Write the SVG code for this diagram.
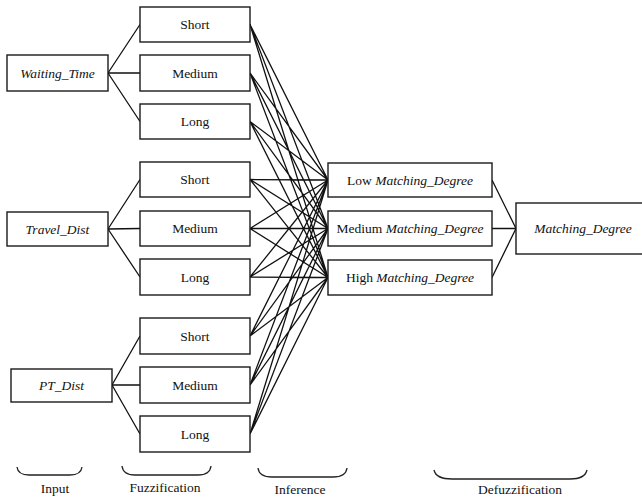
<svg xmlns="http://www.w3.org/2000/svg" width="642" height="500" viewBox="0 0 642 500">
<style>
.box{fill:#fff;stroke:#1a1a1a;stroke-width:1.4}
.ln{stroke:#111;stroke-width:1.3;fill:none}
.br{stroke:#222;stroke-width:1.3;fill:none}
.t{font-family:'Liberation Serif','Times New Roman',Times,'DejaVu Serif',serif;font-size:13.5px;fill:#111;text-anchor:middle}
.it{font-style:italic}
</style>
<rect width="642" height="500" fill="#fff"/>
<g id="connectors">
<path class="ln" d="M108,73 L140,24.5 M108,73 L140,73 M108,73 L140,121.5"/>
<path class="ln" d="M108,229 L140,179.5 M108,229 L140,228.5 M108,229 L140,277"/>
<path class="ln" d="M112,385 L140,336 M112,385 L140,385 M112,385 L140,434"/>
<path class="ln" d="M250,24.5 L328,180 M250,24.5 L328,228.5 M250,24.5 L328,277.5
M250,73 L328,180 M250,73 L328,228.5 M250,73 L328,277.5
M250,121.5 L328,180 M250,121.5 L328,228.5 M250,121.5 L328,277.5
M250,179.5 L328,180 M250,179.5 L328,228.5 M250,179.5 L328,277.5
M250,228.5 L328,180 M250,228.5 L328,228.5 M250,228.5 L328,277.5
M250,277 L328,180 M250,277 L328,228.5 M250,277 L328,277.5
M250,336 L328,180 M250,336 L328,228.5 M250,336 L328,277.5
M250,385 L328,180 M250,385 L328,228.5 M250,385 L328,277.5
M250,434 L328,180 M250,434 L328,228.5 M250,434 L328,277.5"/>
<path class="ln" d="M492,180 L516,228.5 M492,228.5 L516,228.5 M492,277.5 L516,228.5"/>
</g>
<g class="t" font-family="Liberation Serif, Times New Roman, serif">
<g id="in-waiting"><rect class="box" x="7" y="55" width="101" height="36"/><text class="it" x="57.5" y="77.5">Waiting_Time</text></g>
<g id="in-travel"><rect class="box" x="7" y="212" width="101" height="34"/><text class="it" x="57.5" y="233.5">Travel_Dist</text></g>
<g id="in-pt"><rect class="box" x="11" y="369" width="101" height="33"/><text class="it" x="61.5" y="390">PT_Dist</text></g>
<g id="wt-short"><rect class="box" x="140" y="7" width="110" height="35"/><text x="195" y="29">Short</text></g>
<g id="wt-medium"><rect class="box" x="140" y="55" width="110" height="36"/><text x="195" y="77.5">Medium</text></g>
<g id="wt-long"><rect class="box" x="140" y="104" width="110" height="35"/><text x="195" y="126">Long</text></g>
<g id="td-short"><rect class="box" x="140" y="162" width="110" height="35"/><text x="195" y="184">Short</text></g>
<g id="td-medium"><rect class="box" x="140" y="211" width="110" height="35"/><text x="195" y="233">Medium</text></g>
<g id="td-long"><rect class="box" x="140" y="259" width="110" height="36"/><text x="195" y="281.5">Long</text></g>
<g id="pt-short"><rect class="box" x="140" y="318" width="110" height="36"/><text x="195" y="340.5">Short</text></g>
<g id="pt-medium"><rect class="box" x="140" y="367" width="110" height="36"/><text x="195" y="389.5">Medium</text></g>
<g id="pt-long"><rect class="box" x="140" y="416" width="110" height="36"/><text x="195" y="438.5">Long</text></g>
<g id="inf-low"><rect class="box" x="328" y="163" width="164" height="34"/><text x="410" y="184.5">Low <tspan class="it">Matching_Degree</tspan></text></g>
<g id="inf-medium"><rect class="box" x="328" y="211" width="164" height="35"/><text x="410" y="233">Medium <tspan class="it">Matching_Degree</tspan></text></g>
<g id="inf-high"><rect class="box" x="328" y="260" width="164" height="35"/><text x="410" y="282">High <tspan class="it">Matching_Degree</tspan></text></g>
<g id="out"><rect class="box" x="516" y="203" width="136" height="51"/><text class="it" x="583" y="233">Matching_Degree</text></g>
<g id="braces">
<path class="br" d="M17,467 Q18,475 29,475 L70,475 Q81,475 82,467"/>
<path class="br" d="M122,466 Q123,475 135,475 L198,475 Q210,475 211,466"/>
<path class="br" d="M258,468 Q259,477 272,477 L333,477 Q346,477 347,468"/>
<path class="br" d="M434,470 Q436,479 452,479 L570,479 Q585,479 587,470"/>
<text x="55" y="493">Input</text>
<text x="165" y="492">Fuzzification</text>
<text x="300" y="494">Inference</text>
<text x="520" y="494">Defuzzification</text>
</g>
</g>
</svg>
